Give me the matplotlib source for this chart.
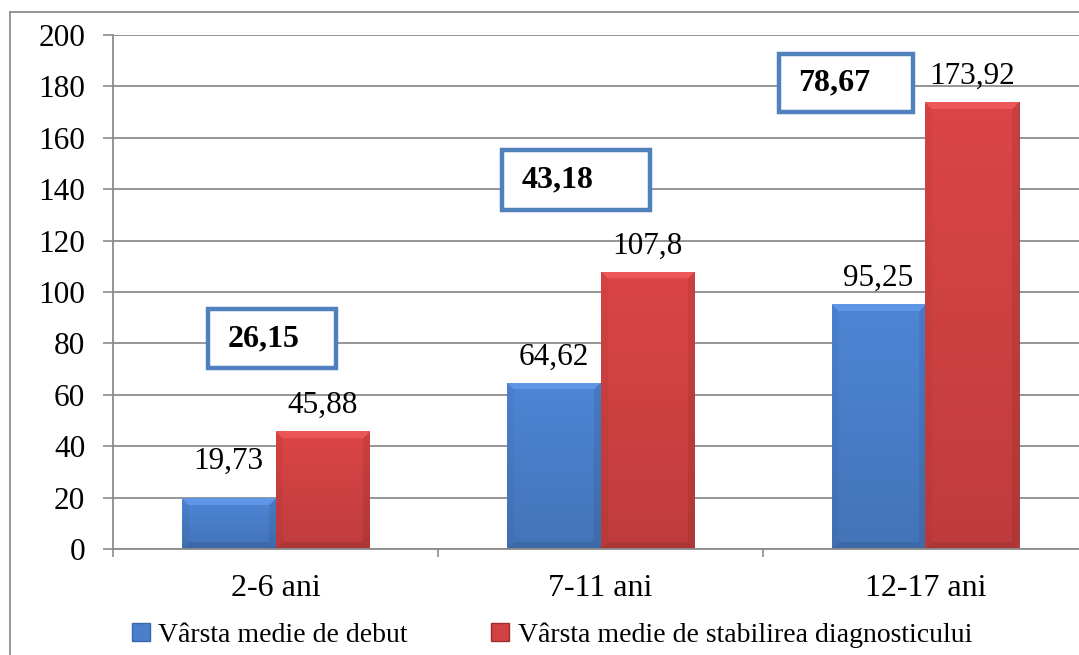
import numpy as np
import matplotlib
matplotlib.use('Agg')
import matplotlib.pyplot as plt
from matplotlib.patches import Rectangle, Patch
from matplotlib.colors import to_rgb
from matplotlib.lines import Line2D

# ---- data ----
categories = ['2-6 ani', '7-11 ani', '12-17 ani']
debut = [19.73, 64.62, 95.25]
diagnostic = [45.88, 107.8, 173.92]
delay = [26.15, 43.18, 78.67]
series_names = ['Vârsta medie de debut', 'Vârsta medie de stabilirea diagnosticului']
yticks = [0, 20, 40, 60, 80, 100, 120, 140, 160, 180, 200]

# ---- layout (annotation boxes, data coords; label offsets in points) ----
box_x0 = [-0.208, 0.697, 1.549]
box_x1 = [0.186, 1.152, 1.962]
box_y0 = [70.4, 131.9, 170.0]
box_y1 = [93.4, 155.3, 192.6]
blue_off = [16, 8, 8]
red_off = [8, 8, 8]

plt.rcParams['font.family'] = ['Liberation Serif', 'DejaVu Serif']

def fmt(v):
    return f"{v:g}".replace('.', ',')

W, H = 1079, 655
fig = plt.figure(figsize=(W / 100, H / 100), dpi=100)
ax = fig.add_axes([113 / W, 106 / H, 975 / W, 514 / H])

x = np.arange(len(categories))
bw = 0.289
gray = '#8c8c8c'
blue, red = '#4A7FCB', '#D24242'

bars_b = ax.bar(x - bw / 2, debut, bw, color=blue, edgecolor='#3A66A8', lw=0.6, zorder=2)
bars_r = ax.bar(x + bw / 2, diagnostic, bw, color=red, edgecolor='#9E2E2E', lw=0.6, zorder=2)

ax.set_xlim(-0.5, 2.5)
ax.set_ylim(0, 200)

def bevel(bar, base):
    """Overlay a bevelled, vertically shaded image clipped to the bar."""
    x0, y0 = bar.get_xy()
    w, h = bar.get_width(), bar.get_height()
    p0 = ax.transData.transform((x0, y0))
    p1 = ax.transData.transform((x0 + w, y0 + h))
    wp, hp = max(int(round(p1[0] - p0[0])), 2), max(int(round(p1[1] - p0[1])), 2)
    c = np.array(to_rgb(base))
    yy, xx = np.mgrid[0:hp, 0:wp].astype(float)
    t = yy / max(hp - 1, 1)               # 0 top, 1 bottom
    shade = 1.05 - 0.14 * t
    img = np.clip(c[None, None, :] * shade[..., None], 0, 1)
    b = 7.0
    dl, dr, dt, db = xx, wp - 1 - xx, yy, hp - 1 - yy
    top = (dt < b) & (dt <= dl) & (dt <= dr)
    left = (dl < b) & (dl < dt) & (dl <= db)
    right = (dr < b) & (dr < dt) & (dr <= db)
    bottom = (db < b) & ~top & ~left & ~right
    img[top] = np.clip(img[top] + 0.07, 0, 1)
    img[left] = img[left] * 0.96
    img[right] = img[right] * 0.92
    img[bottom] = img[bottom] * 0.90
    im = ax.imshow(img, extent=[x0, x0 + w, y0, y0 + h], aspect='auto',
                   origin='upper', zorder=2.1, interpolation='bilinear')
    im.set_clip_path(bar)

for bb in bars_b:
    bevel(bb, blue)
for bb in bars_r:
    bevel(bb, red)
ax.set_xlim(-0.5, 2.5)
ax.set_ylim(0, 200)

# value labels
for xi, v, o in zip(x - bw / 2, debut, blue_off):
    ax.annotate(fmt(v), (xi, v), xytext=(0, o), textcoords='offset points',
                ha='center', va='bottom', fontsize=22.5, zorder=4)
for xi, v, o in zip(x + bw / 2, diagnostic, red_off):
    ax.annotate(fmt(v), (xi, v), xytext=(0, o), textcoords='offset points',
                ha='center', va='bottom', fontsize=22.5, zorder=4)

# delay boxes
for d, x0, x1, y0, y1 in zip(delay, box_x0, box_x1, box_y0, box_y1):
    ax.add_patch(Rectangle((x0, y0), x1 - x0, y1 - y0, facecolor='white',
                           edgecolor='#4F81BD', lw=3.2, zorder=3))
    ax.text(x0 + 0.06, (y0 + y1) / 2, fmt(d), ha='left', va='center',
            fontsize=23, fontweight='bold', zorder=4)

# axes styling
ax.set_yticks(yticks)
ax.set_xticks(x)
ax.set_xticklabels(categories)
ax.set_xticks([-0.5, 0.5, 1.5, 2.5], minor=True)
ax.tick_params(axis='y', length=7, width=1.2, color=gray, pad=13, labelsize=22.5)
ax.tick_params(axis='x', which='major', length=0, pad=18, labelsize=23)
ax.tick_params(axis='x', which='minor', length=6, width=1.2, color=gray)
ax.yaxis.grid(True, color=gray, lw=1.3)
ax.set_axisbelow(True)
for s in ['top', 'right']:
    ax.spines[s].set_visible(False)
for s in ['left', 'bottom']:
    ax.spines[s].set_color(gray)
    ax.spines[s].set_linewidth(1.3)

# outer frame
fig.add_artist(Line2D([10 / W, 10 / W], [0, 1 - 12 / H], transform=fig.transFigure, color=gray, lw=1.3))
fig.add_artist(Line2D([10 / W, 1], [1 - 12 / H, 1 - 12 / H], transform=fig.transFigure, color=gray, lw=1.3))

handles = [Patch(facecolor=blue, edgecolor='#3A66A8'), Patch(facecolor=red, edgecolor='#9E2E2E')]
fig.legend(handles, series_names, loc='center', bbox_to_anchor=(552 / W, 20 / H), ncol=2,
           frameon=False, fontsize=20, handlelength=0.65, handleheight=0.65,
           handletextpad=0.3, columnspacing=3.0, borderaxespad=0)

fig.savefig('out.png', dpi=100)
